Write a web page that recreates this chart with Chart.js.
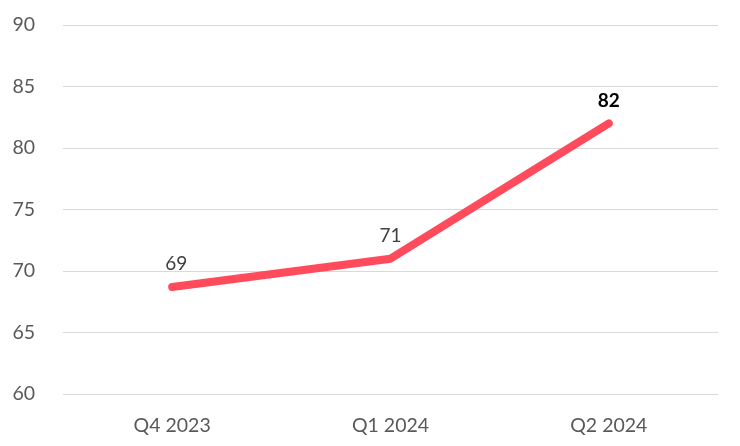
<!DOCTYPE html>
<html>
<head>
<meta charset="utf-8">
<script src="https://cdn.jsdelivr.net/npm/chart.js@4"></script>
<style>
html,body{margin:0;padding:0;background:#fff}
#wrap{width:740px;height:446px;position:relative}
</style>
</head>
<body>
<div id="wrap"><canvas id="c"></canvas></div>
<script>
// data
var categories = ['Q4 2023', 'Q1 2024', 'Q2 2024'];
var scores = [68.7, 71, 82];
var labelText = ['69', '71', '82'];
var labelBold = [false, false, true];
var yTicks = [60, 65, 70, 75, 80, 85, 90];

var FONT = "Lato, 'Open Sans', sans-serif";

// simple data label plugin (no datalabels lib available)
var valueLabels = {
    id: 'valueLabels',
    afterDatasetsDraw: function(chart){
        var ctx = chart.ctx, meta = chart.getDatasetMeta(0);
        ctx.save();
        ctx.textAlign = 'center'; ctx.textBaseline = 'middle';
        meta.data.forEach(function(pt, i){
            var b = labelBold[i];
            ctx.font = (b ? 'bold ' : '') + '19px ' + FONT;
            ctx.fillStyle = b ? '#000000' : '#404040';
            ctx.fillText(labelText[i], pt.x + (i === 0 ? 4 : 0), pt.y - 23);
        });
        ctx.restore();
    }
};

new Chart(document.getElementById('c').getContext('2d'), {
    type: 'line',
    data: {
        labels: categories,
        datasets: [{
            data: scores,
            borderColor: '#FF4B5C',
            borderWidth: 8,
            borderCapStyle: 'round',
            borderJoinStyle: 'round',
            pointRadius: 0,
            tension: 0,
            fill: false
        }]
    },
    options: {
        responsive: true, maintainAspectRatio: false, animation: false,
        layout: { padding: { top: 25, right: 22, left: 0, bottom: 0 } },
        plugins: { legend: { display: false }, tooltip: { enabled: false } },
        scales: {
            x: {
                offset: true,
                grid: { display: false, drawTicks: false },
                border: { display: false },
                ticks: { color: '#595959', padding: 20, font: { family: FONT, size: 19.5 } },
                afterFit: function(s){ s.height = 52; }
            },
            y: {
                min: 60, max: 90,
                afterBuildTicks: function(s){ s.ticks = yTicks.map(function(v){ return { value: v }; }); },
                grid: { color: '#d9d9d9', lineWidth: 1, drawTicks: false },
                border: { display: false },
                ticks: { color: '#595959', padding: 28, font: { family: FONT, size: 19.5 } },
                afterFit: function(s){ s.width = 63; s.paddingTop = 0; }
            }
        }
    },
    plugins: [valueLabels]
});
</script>
</body>
</html>
